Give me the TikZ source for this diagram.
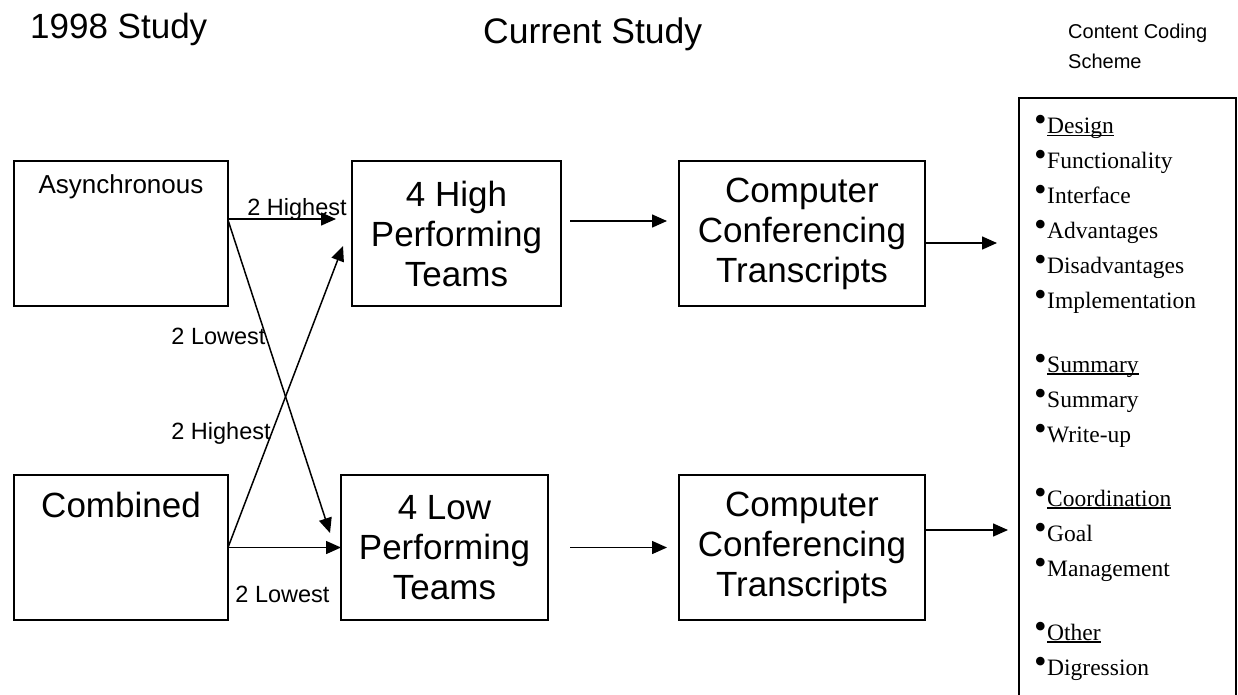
\documentclass[tikz,border=0pt]{standalone}
\usepackage{fontspec}
\setmainfont{Liberation Sans}
\newfontfamily\codefont{Liberation Serif}
\usepackage{tikz}
\usetikzlibrary{arrows.meta, positioning}

\newcommand\bul{\makebox[13pt][l]{\smash{\raisebox{2pt}{\fontsize{36}{36}\selectfont •}}}}
\newcommand\codehead[1]{\sbox0{#1}\rlap{\rule[-2.5pt]{\wd0}{1.5pt}}\usebox0}

\begin{document}
\begin{tikzpicture}[x=1pt, y=-1pt,
    stage/.style={draw, rectangle, line width=1.8pt, inner sep=0pt, outer sep=0pt, align=center, font=\fontsize{35}{40}\selectfont},
    tag/.style={inner sep=0pt, font=\fontsize{23.5}{28}\selectfont},
    flow/.style={line width=1.5pt, -{Triangle[length=15pt, width=13pt]}}]
        \useasboundingbox (0,0) rectangle (1238,694);

        % Headings
        \node (oldstudy) [inner sep=0pt, anchor=base west, font=\fontsize{35}{40}\selectfont] at (30,38) {1998 Study};
        \node (curstudy) [inner sep=0pt, anchor=base west, font=\fontsize{35.5}{40}\selectfont] at (483,43) {Current Study};
        \node (schemetitle) [inner sep=0pt, anchor=north west, align=left, font=\fontsize{20}{30}\selectfont] at (1068,24) {Content Coding\\Scheme};

        % 1998 Study groups
        \node (async) [stage, minimum width=214pt, minimum height=145pt, text height=32pt, text depth=113pt, font=\fontsize{26}{30}\selectfont] at (121,233.5) {Asynchronous};
        \node (combined) [stage, minimum width=214pt, minimum height=145pt, text height=42pt, text depth=103pt, below=169pt of async] {Combined};

        % Current Study teams
        \node (high) [stage, minimum width=209pt, minimum height=145pt] at (456.5,233.5) {4 High\\Performing\\Teams};
        \node (low) [stage, minimum width=207pt, minimum height=145pt] at (444.5,547.5) {4 Low\\Performing\\Teams};

        % Transcripts
        \node (hightrans) [stage, minimum width=246pt, minimum height=145pt, right=118pt of high] {Computer\\Conferencing\\Transcripts};
        \node (lowtrans) [stage, minimum width=246pt, minimum height=145pt, below=169pt of hightrans] {Computer\\Conferencing\\Transcripts};

        % Content Coding Scheme
        \node (scheme) [draw, line width=1.8pt, outer sep=0pt, minimum width=217pt, minimum height=620pt, anchor=north west] at (1019,98) {};
        \node (codes) [inner sep=0pt, anchor=north west, align=left, font=\codefont\fontsize{23.5}{34.9}\selectfont] at (1034,118) {\bul\codehead{Design}\\
            \bul Functionality\\
            \bul Interface\\
            \bul Advantages\\
            \bul Disadvantages\\
            \bul Implementation\\[29.3pt]
            \bul\codehead{Summary}\\
            \bul Summary\\
            \bul Write-up\\[29.3pt]
            \bul\codehead{Coordination}\\
            \bul Goal\\
            \bul Management\\[29.3pt]
            \bul\codehead{Other}\\
            \bul Digression};

        % Arrow labels
        \node (asynchigh) [tag, anchor=base] at (297,215) {2 Highest};
        \node (asynclow) [tag, anchor=base] at (218.5,344) {2 Lowest};
        \node (combhigh) [tag, anchor=base] at (221,439) {2 Highest};
        \node (comblow) [tag, anchor=base] at (282.5,602) {2 Lowest};

        % Arrows
        \draw[flow, shorten >=16pt] ([yshift=14.5pt]async.east) -- ([yshift=14.5pt]high.west);
        \draw[flow] ([yshift=13.5pt]async.east) -- ([xshift=-11pt, yshift=14.5pt]low.west);
        \draw[flow] (combined.east) -- ([xshift=-9pt, yshift=-12.5pt]high.west);
        \draw[flow] (combined.east) -- (low.west);
        \draw[flow, shorten <=9pt, shorten >=12pt] ([yshift=12.5pt]high.east) -- ([yshift=12.5pt]hightrans.west);
        \draw[flow, shorten <=22pt, shorten >=12pt] (low.east) -- (lowtrans.west);
        \draw[flow, shorten >=22pt] ([yshift=-9.5pt]hightrans.east) -- ([yshift=-9.5pt]hightrans.east -| scheme.west);
        \draw[flow, shorten >=11pt] ([yshift=17.5pt]lowtrans.east) -- ([yshift=17.5pt]lowtrans.east -| scheme.west);
    \end{tikzpicture}
\end{document}
